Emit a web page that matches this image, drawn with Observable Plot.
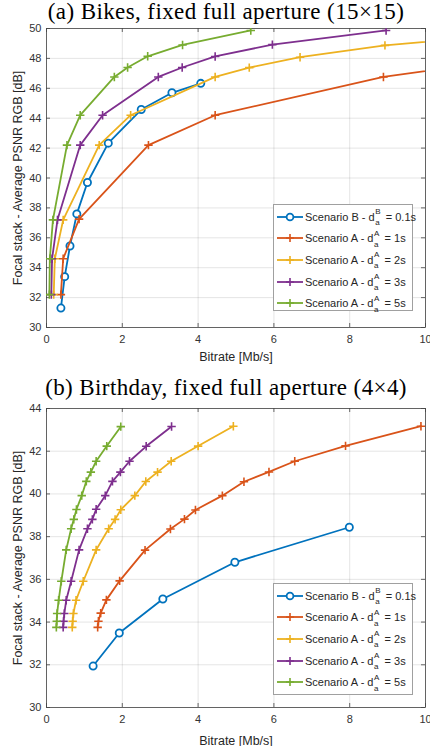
<!DOCTYPE html>
<html>
<head>
<meta charset="utf-8">
<script src="https://cdn.jsdelivr.net/npm/d3@7"></script>
<script src="https://cdn.jsdelivr.net/npm/@observablehq/plot@0.6"></script>
<style>
  html, body { margin: 0; padding: 0; background: #fff; overflow: hidden; }
  #page { position: relative; width: 430px; height: 746px; overflow: hidden; font-family: "Liberation Sans", Arial, sans-serif; }
  .title { position: absolute; left: 11px; width: 430px; text-align: center; font-family: "Liberation Serif", "Times New Roman", serif; font-size: 23px; letter-spacing: 0.4px; color: #000; white-space: nowrap; }
  .chart { position: absolute; left: 0; }
  .legend { position: absolute; left: 273px; width: 140px; background: #fff; border: 1px solid #a0a0a0; box-sizing: border-box; }
  .row { position: absolute; left: 0; height: 16px; width: 140px; font-size: 11px; line-height: 16px; color: #262626; white-space: nowrap; }
  .row svg { position: absolute; left: 2px; top: 0; }
  .row .txt { position: absolute; left: 31px; top: 0; height: 16px; }
  .ss { position: relative; display: inline-block; width: 8px; height: 16px; vertical-align: top; }
  .ss .sup { position: absolute; left: 0.5px; top: -0.5px; font-size: 8px; line-height: 8px; }
  .ss .sub { position: absolute; left: 0.5px; top: 10.5px; font-size: 8px; line-height: 8px; }
</style>
</head>
<body>
<div id="page">
  <div class="chart" id="chartA" style="top:22px;"></div>
  <div class="chart" id="chartB" style="top:402px;"></div>
  <div class="title" style="top:0; height:24px; line-height:24px;">(a) Bikes, fixed full aperture (15×15)</div>
  <div class="title" style="top:376px; height:24px; line-height:24px;">(b) Birthday, fixed full aperture (4×4)</div>
  <div class="legend" id="legendA" style="top:204px; height:107px;"></div>
  <div class="legend" id="legendB" style="top:583px; height:112px;"></div>
</div>
<script>
// ---------- data ----------
const xTicks = [0, 2, 4, 6, 8, 10];
const bikesYTicks = [30, 32, 34, 36, 38, 40, 42, 44, 46, 48, 50];
const birthdayYTicks = [30, 32, 34, 36, 38, 40, 42, 44];
const xLabel = "Bitrate [Mb/s]";
const yLabel = "Focal stack - Average PSNR RGB [dB]";

const seriesNames = ["Scenario B - d", "Scenario A - d", "Scenario A - d", "Scenario A - d", "Scenario A - d"];
const seriesSup = ["B", "A", "A", "A", "A"];
const seriesDur = ["0.1s", "1s", "2s", "3s", "5s"];
const seriesColors = ["#0072BD", "#D95319", "#EDB120", "#7E2F8E", "#77AC30"];
const seriesMarkers = ["circle", "plus", "plus", "plus", "plus"];

// (a) Bikes: [bitrate Mb/s, PSNR dB]
const bikesB  = [[0.38,31.3],[0.48,33.4],[0.62,35.45],[0.80,37.6],[1.08,39.7],[1.63,42.33],[2.50,44.58],[3.31,45.7],[4.07,46.33]];
const bikesA1 = [[0.38,32.2],[0.44,34.6],[0.86,37.25],[2.69,42.2],[4.45,44.2],[8.89,46.76],[10.7,47.4]];
const bikesA2 = [[0.19,32.2],[0.22,34.6],[0.44,37.2],[1.39,42.2],[2.22,44.2],[4.45,46.76],[5.35,47.38],[6.69,48.08],[8.93,48.87],[13.4,49.87]];
const bikesA3 = [[0.127,32.2],[0.147,34.6],[0.29,37.2],[0.89,42.2],[1.48,44.2],[2.95,46.76],[3.58,47.39],[4.45,48.13],[5.96,48.92],[8.96,49.87]];
const bikesA5 = [[0.076,32.2],[0.088,34.6],[0.17,37.2],[0.54,42.2],[0.89,44.2],[1.79,46.76],[2.14,47.39],[2.67,48.14],[3.59,48.9],[5.39,49.87]];

// (b) Birthday
const birthdayB  = [[1.23,31.94],[1.92,33.49],[3.07,35.08],[4.97,36.8],[7.99,38.44]];
const birthdayA1 = [[1.35,33.75],[1.37,34.04],[1.43,34.42],[1.58,35.04],[1.93,35.93],[2.60,37.37],[3.27,38.36],[3.64,38.82],[3.93,39.25],[4.64,39.92],[5.21,40.57],[5.87,41.03],[6.55,41.53],[7.89,42.25],[9.88,43.17]];
const birthdayA2 = [[0.68,33.75],[0.69,34.04],[0.71,34.4],[0.78,35.02],[0.97,35.91],[1.31,37.38],[1.64,38.37],[1.81,38.81],[1.96,39.26],[2.33,39.92],[2.62,40.58],[2.93,41.02],[3.29,41.53],[4.0,42.24],[4.93,43.17]];
const birthdayA3 = [[0.44,33.75],[0.45,34.04],[0.47,34.4],[0.52,35.02],[0.65,35.91],[0.86,37.38],[1.08,38.37],[1.21,38.81],[1.31,39.28],[1.55,39.92],[1.74,40.59],[1.95,41.02],[2.19,41.53],[2.63,42.23],[3.30,43.16]];
const birthdayA5 = [[0.26,33.75],[0.27,34.04],[0.28,34.4],[0.32,35.02],[0.39,35.91],[0.52,37.38],[0.65,38.37],[0.72,38.81],[0.79,39.27],[0.93,39.92],[1.05,40.59],[1.17,41.02],[1.31,41.53],[1.59,42.24],[1.96,43.15]];

// ---------- drawing ----------
const plusSymbol = {
  draw(ctx, size) {
    const r = Math.sqrt(size / Math.PI);
    ctx.moveTo(-r, 0); ctx.lineTo(r, 0);
    ctx.moveTo(0, -r); ctx.lineTo(0, r);
  }
};

function seriesMarks(data, i) {
  const c = seriesColors[i];
  const circle = seriesMarkers[i] === "circle";
  return [
    Plot.line(data, {x: d => d[0], y: d => d[1], stroke: c, strokeWidth: 1.8, clip: true}),
    Plot.dot(data, {x: d => d[0], y: d => d[1], symbol: circle ? "circle" : plusSymbol,
      r: circle ? 3.6 : 4.2, stroke: c, strokeWidth: circle ? 1.8 : 1.6, fill: circle ? "white" : "none", clip: true})
  ];
}

function chart(seriesList, yDomain, yTicks, xLabelDy) {
  const plotH = 299, plotW = 379;
  return Plot.plot({
    width: 430, height: 345,
    marginTop: 6, marginBottom: 40, marginLeft: 46, marginRight: 5,
    x: {domain: [0, 10]},
    y: {domain: yDomain},
    style: {fontFamily: "'Liberation Sans', Arial, sans-serif", fontSize: "11px", color: "#333", background: "white", overflow: "visible"},
    marks: [
      Plot.gridX(xTicks, {stroke: "#262626", strokeOpacity: 0.12, strokeWidth: 1}),
      Plot.gridY(yTicks, {stroke: "#262626", strokeOpacity: 0.12, strokeWidth: 1}),
      Plot.ruleX(xTicks, {x: d => d, insetTop: plotH - 4, stroke: "#444", strokeWidth: 0.8}),
      Plot.ruleX(xTicks, {x: d => d, insetBottom: plotH - 4, stroke: "#444", strokeWidth: 0.8}),
      Plot.ruleY(yTicks, {y: d => d, insetRight: plotW - 4, stroke: "#444", strokeWidth: 0.8}),
      Plot.ruleY(yTicks, {y: d => d, insetLeft: plotW - 4, stroke: "#444", strokeWidth: 0.8}),
      Plot.axisX(xTicks, {tickSize: 0, tickPadding: 8, fill: "#333", fontSize: 11, label: null}),
      Plot.axisY(yTicks, {tickSize: 0, tickPadding: 5, fill: "#333", fontSize: 11, label: null}),
      Plot.text([xLabel], {text: d => d, frameAnchor: "bottom", dy: xLabelDy, textAnchor: "middle", lineAnchor: "middle", fontSize: 12.5, fill: "#262626"}),
      Plot.text([yLabel], {text: d => d, frameAnchor: "left", rotate: -90, dx: -29, textAnchor: "middle", lineAnchor: "middle", fontSize: 12.5, fill: "#262626"}),
      Plot.frame({stroke: "#444", strokeWidth: 0.8}),
      ...seriesList.flatMap((s, i) => seriesMarks(s, i))
    ]
  });
}

function legend(el) {
  const spacing = 21.7;
  seriesNames.forEach((name, i) => {
    const row = document.createElement("div");
    row.className = "row";
    row.style.top = (3.5 + i * spacing) + "px";
    const c = seriesColors[i];
    const marker = seriesMarkers[i] === "circle"
      ? `<circle cx="14" cy="8" r="3.4" fill="white" stroke="${c}" stroke-width="1.8"/>`
      : `<path d="M10,8H18M14,4V12" stroke="${c}" stroke-width="1.6" fill="none"/>`;
    row.innerHTML = `<svg width="28" height="16"><line x1="1" x2="27" y1="8" y2="8" stroke="${c}" stroke-width="1.8"/>${marker}</svg>` +
      `<span class="txt">${name}<span class="ss"><span class="sup">${seriesSup[i]}</span><span class="sub">a</span></span> = ${seriesDur[i]}</span>`;
    el.appendChild(row);
  });
}

document.getElementById("chartA").appendChild(chart([bikesB, bikesA1, bikesA2, bikesA3, bikesA5], [30, 50], bikesYTicks, 29));
document.getElementById("chartB").appendChild(chart([birthdayB, birthdayA1, birthdayA2, birthdayA3, birthdayA5], [30, 44], birthdayYTicks, 33));
legend(document.getElementById("legendA"));
legend(document.getElementById("legendB"));
</script>
</body>
</html>
